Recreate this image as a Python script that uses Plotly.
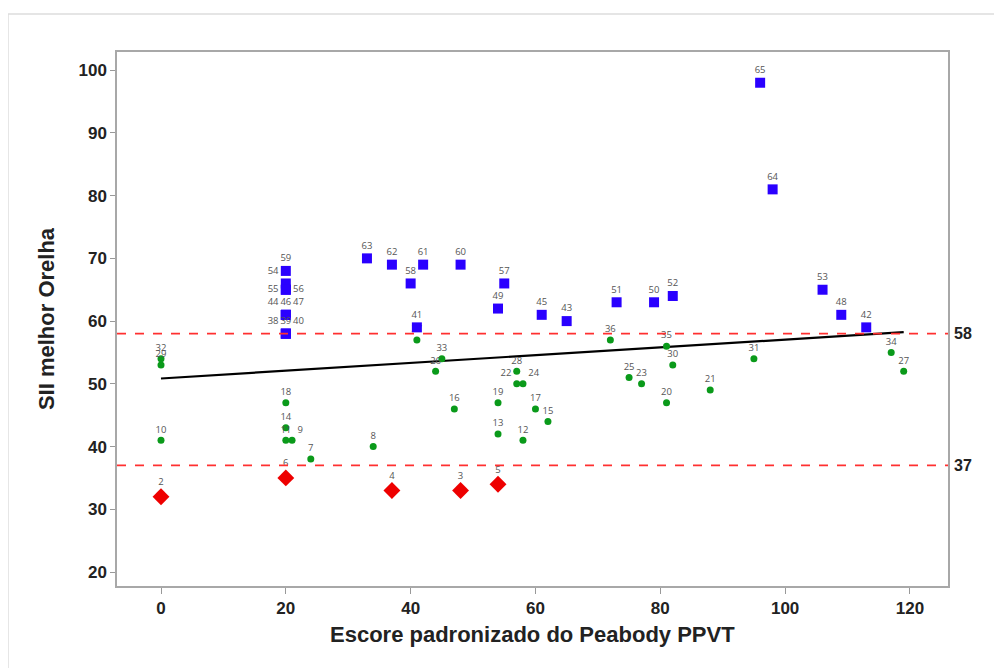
import plotly.graph_objects as go

# ---- data ----
red_ids = [2, 3, 4, 5, 6]
red_x = [0, 48, 37, 54, 20]
red_y = [32, 33, 33, 34, 35]

green_ids = [7, 8, 9, 10, 11, 12, 13, 14, 15, 16, 17, 18, 19, 20, 21, 22, 23, 24, 25,
             26, 27, 28, 29, 30, 31, 32, 33, 34, 35, 36, 37]
green_x = [24, 34, 21, 0, 20, 58, 54, 20, 62, 47, 60, 20, 54, 81, 88, 57, 77, 58, 75,
           44, 119, 57, 0, 82, 95, 0, 45, 117, 81, 72, 41]
green_y = [38, 40, 41, 41, 41, 41, 42, 43, 44, 46, 46, 47, 47, 47, 49, 50, 50, 50, 51,
           52, 52, 52, 53, 53, 54, 54, 54, 55, 56, 57, 57]

blue_ids = [38, 39, 40, 41, 42, 43, 44, 45, 46, 47, 48, 49, 50, 51, 52, 53, 54, 55, 56,
            57, 58, 59, 60, 61, 62, 63, 64, 65]
blue_x = [20, 20, 20, 41, 113, 65, 20, 61, 20, 20, 109, 54, 79, 73, 82, 106, 20, 20, 20,
          55, 40, 20, 48, 42, 37, 33, 98, 96]
blue_y = [58, 58, 58, 59, 59, 60, 61, 61, 61, 61, 61, 62, 63, 63, 64, 65, 66, 65, 65,
          66, 66, 68, 69, 69, 69, 70, 81, 98]

fit_intercept = 50.85
fit_slope = 0.062
fit_x = [0, 119]

ref_lines = [58, 37]

x_ticks = [0, 20, 40, 60, 80, 100, 120]
y_ticks = [20, 30, 40, 50, 60, 70, 80, 90, 100]

# label placement tweaks for overlapping points
special_pos = {38: "top left", 40: "top right", 44: "top left", 47: "top right",
               54: "top left", 55: "middle left", 56: "middle right", 9: "top right",
               24: "top right", 22: "top left"}


def positions(ids):
    return [special_pos.get(i, "top center") for i in ids]


label_font = dict(family="Open Sans, DejaVu Sans, sans-serif", size=9.5, color="#555555")

fig = go.Figure()

fig.add_trace(go.Scatter(
    x=fit_x, y=[fit_intercept + fit_slope * v for v in fit_x], mode="lines",
    line=dict(color="black", width=2.2), hoverinfo="skip"))

fig.add_trace(go.Scatter(
    x=green_x, y=green_y, mode="markers+text", text=[str(i) for i in green_ids],
    textposition=positions(green_ids), textfont=label_font,
    marker=dict(symbol="circle", size=7, color="#0a9a1a")))

fig.add_trace(go.Scatter(
    x=blue_x, y=blue_y, mode="markers+text", text=[str(i) for i in blue_ids],
    textposition=positions(blue_ids), textfont=label_font,
    marker=dict(symbol="square", size=10, color="#2a00ff")))

fig.add_trace(go.Scatter(
    x=red_x, y=red_y, mode="markers+text", text=[str(i) for i in red_ids],
    textposition=positions(red_ids), textfont=label_font,
    marker=dict(symbol="diamond", size=13, color="#ee0000")))

for v in ref_lines:
    fig.add_shape(type="line", xref="paper", x0=0, x1=1, yref="y", y0=v, y1=v,
                  line=dict(color="#ff3030", width=1.6, dash="dash"))
    fig.add_annotation(xref="paper", x=1.005, yref="y", y=v, text=str(v),
                       showarrow=False, xanchor="left",
                       font=dict(family="Liberation Sans, Arial, sans-serif",
                                 size=16, color="#222222", weight="bold"))

# outer light frame
fig.add_shape(type="line", xref="paper", yref="paper", x0=-0.1312, x1=-0.1312,
              y0=-0.3, y1=1.0712, line=dict(color="#dddddd", width=1.5))
fig.add_shape(type="line", xref="paper", yref="paper", x0=-0.1312, x1=1.2,
              y0=1.0712, y1=1.0712, line=dict(color="#dddddd", width=1.5))

axis_font = dict(family="Liberation Sans, Arial, sans-serif", size=17,
                 color="#222222", weight="bold")
title_font = dict(family="Liberation Sans, Arial, sans-serif", size=22,
                  color="#222222", weight="bold")

# x-axis title as annotation for precise placement
fig.add_annotation(xref="paper", yref="paper", x=0.5, y=-0.0899, yanchor="middle",
                   text="Escore padronizado do Peabody PPVT", showarrow=False,
                   font=title_font)

fig.update_layout(
    width=1002, height=668,
    margin=dict(l=109, r=62, t=44, b=90),
    paper_bgcolor="white", plot_bgcolor="white",
    showlegend=False,
    xaxis=dict(range=[-7.05, 126.1], tickvals=x_ticks, ticks="outside", ticklen=6,
               tickcolor="#999999", showline=True, mirror=True, linecolor="#a8a8a8",
               linewidth=1.5, showgrid=False, zeroline=False, tickfont=axis_font),
    yaxis=dict(range=[17.77, 102.9], tickvals=y_ticks, ticks="outside", ticklen=5,
               tickcolor="#999999", showline=True, mirror=True, linecolor="#a8a8a8",
               linewidth=1.5, showgrid=False, zeroline=False, tickfont=axis_font,
               title=dict(text="SII melhor Orelha", font=title_font, standoff=18)),
)

fig.write_html("out.html")
